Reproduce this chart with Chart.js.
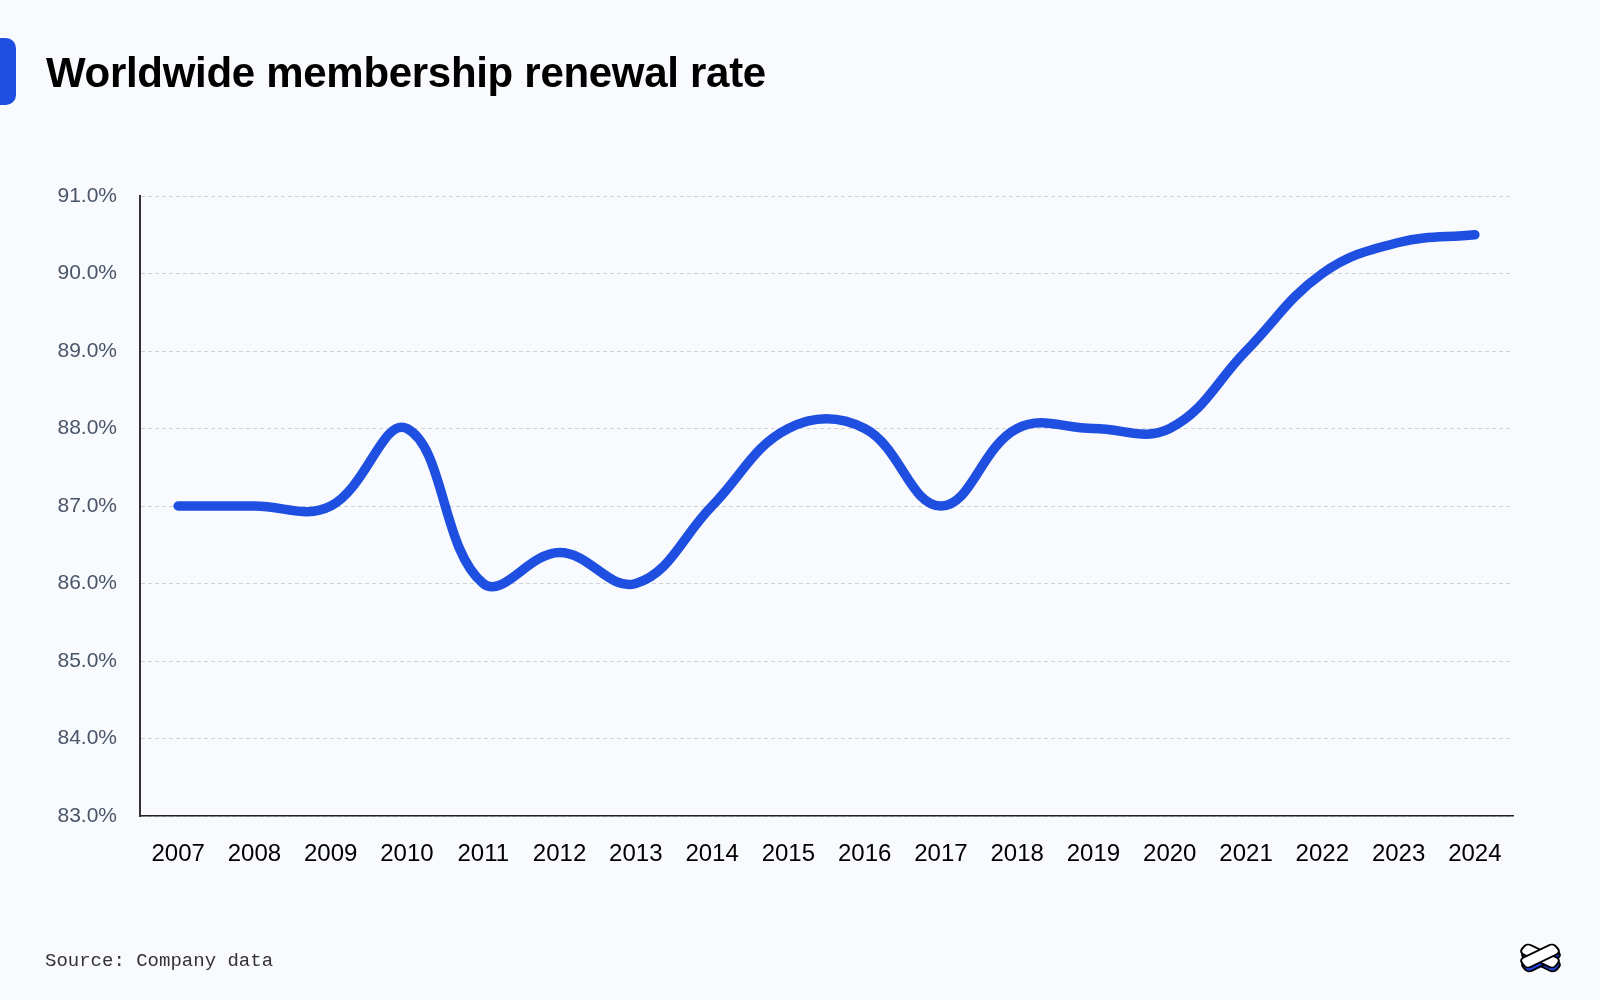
<!DOCTYPE html>
<html>
<head>
<meta charset="utf-8">
<script src="https://cdn.jsdelivr.net/npm/chart.js@4"></script>
<style>
html,body{margin:0;padding:0;background:#f8fafd;}
#wrap{position:relative;width:1600px;height:1000px;overflow:hidden;}
#chart{position:absolute;left:0;top:0;}
.tab{position:absolute;left:0;top:38px;width:16px;height:67px;background:#1f4fe0;border-radius:0 10px 10px 0;}
h1{position:absolute;left:46px;top:49px;margin:0;font:700 42px "Liberation Sans",Arial,sans-serif;color:#000;letter-spacing:-0.3px;}
.src{position:absolute;left:45px;top:950px;font:19px "Liberation Mono",monospace;color:#333;}
.logo{position:absolute;left:1514px;top:934px;}
</style>
</head>
<body>
<div id="wrap">
<canvas id="chart" width="1600" height="1000"></canvas>
<div class="tab"></div>
<h1>Worldwide membership renewal rate</h1>
<div class="src">Source: Company data</div>
<svg class="logo" width="52" height="46" viewBox="0 0 52 46">
<g transform="translate(26,22) scale(1,0.78)" stroke="#000" stroke-width="2.2">
<g transform="translate(1,5)">
<rect x="-20" y="-7" width="40" height="14" rx="5" fill="#2340d8" transform="rotate(32)"/>
<rect x="-20" y="-7" width="40" height="14" rx="5" fill="#2340d8" transform="rotate(-32)"/>
</g>
<rect x="-20" y="-7" width="40" height="14" rx="5" fill="#fff" transform="rotate(32)"/>
<rect x="-20" y="-7" width="40" height="14" rx="5" fill="#fff" transform="rotate(-32)"/>
</g>
</svg>
</div>
<script>
const years = ["2007","2008","2009","2010","2011","2012","2013","2014","2015","2016","2017","2018","2019","2020","2021","2022","2023","2024"];
const renewalRate = [87.0,87.0,87.0,88.0,86.0,86.4,86.0,87.0,88.0,88.0,87.0,88.0,88.0,88.0,89.0,90.0,90.4,90.5];
const yMin = 83;
const yMax = 91;

const ctx = document.getElementById("chart");

new Chart(ctx,{
type:"line",
data:{
labels:years,
datasets:[{
label:"Renewal rate",
data:renewalRate,
borderColor:"#1f4fe0",
borderWidth:9.5,
tension:0.4,
pointRadius:0,
borderCapStyle:"round",
borderJoinStyle:"round",
fill:false
}]
},
options:{
responsive:false,
animation:false,
layout:{padding:{left:0,right:87,top:196,bottom:0}},
plugins:{legend:{display:false},tooltip:{enabled:false}},
scales:{
x:{
offset:true,
grid:{display:false,drawTicks:false},
border:{display:true,color:"#222",width:1.5},
ticks:{color:"#000",padding:24,maxRotation:0,autoSkip:false,font:{family:"Liberation Sans",size:24}},
afterFit:(s)=>{s.height=184;}
},
y:{
min:yMin,
max:yMax,
grid:{color:"#cfd2d6",lineWidth:1,drawTicks:false},
border:{display:true,color:"#333",width:2,dash:[4,3]},
ticks:{stepSize:1,color:"#4a5568",padding:23,font:{family:"Liberation Sans",size:21},
callback:(v)=>v.toFixed(1)+"%"},
afterFit:(s)=>{s.width=140;}
}
}
}
});
</script>
</body>
</html>
